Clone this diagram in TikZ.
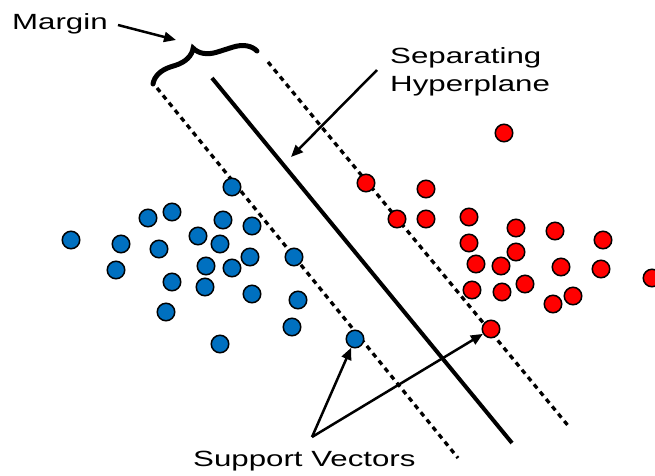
\documentclass[tikz,border=0pt]{standalone}
\usepackage{fontspec}
\setmainfont{Liberation Sans}[FakeStretch=1.42]
\usepackage{xcolor}
\usetikzlibrary{arrows.meta, decorations.pathreplacing}
\definecolor{svmblue}{RGB}{0,112,192}
\definecolor{svmred}{RGB}{255,0,0}

\begin{document}
\begin{tikzpicture}[
        x=1pt, y=-1pt,
        % --- Style Definitions ---
        bluept/.style={circle, draw=black, line width=1.5pt, fill=svmblue, minimum size=17.5pt, inner sep=0pt},
        redpt/.style={circle, draw=black, line width=1.5pt, fill=svmred, minimum size=17.5pt, inner sep=0pt},
        hyperline/.style={line width=4pt},
        marginline/.style={line width=3.3pt, dash pattern=on 5pt off 4.5pt},
        arrow/.style={line width=2.5pt, -{Triangle[length=12pt, width=10pt]}},
        brace/.style={decorate, decoration={brace, amplitude=22pt, aspect=0.45}, line width=5pt, line cap=round},
        label_text/.style={anchor=base west, inner sep=0pt, font=\fontsize{22}{28}\selectfont}
    ]
        \useasboundingbox (0,0) rectangle (655,475);

        % --- Hyperplane and Margins ---
        \coordinate (hp_top) at (212,78);
        \coordinate (hp_bot) at (512,443);
        \coordinate (ml_top) at (157,88);
        \coordinate (ml_bot) at (458,458);
        \coordinate (mr_top) at (268,62);
        \coordinate (mr_bot) at (570,428);

        \draw[hyperline] (hp_top) -- (hp_bot);
        \draw[marginline] (ml_top) -- (ml_bot);
        \draw[marginline] (mr_top) -- (mr_bot);

        % --- Brace for the margin ---
        \coordinate (brace_l) at (153,84);
        \coordinate (brace_r) at (257,51);
        \draw[brace] (brace_l) -- (brace_r);

        % --- Class A (blue) ---
        \foreach \px/\py [count=\i] in {232/187, 148/218, 172/212, 223/220, 252/226, 71/240,
            121/244, 198/236, 220/244, 159/249, 250/257, 294/257, 206/266, 232/268, 116/270,
            172/282, 205/287, 252/294, 298/300, 166/312, 292/327, 220/344}
            \node[bluept] (b\i) at (\px,\py) {};
        \node[bluept] (b_sv) at (355,339) {};

        % --- Class B (red) ---
        \foreach \px/\py [count=\i] in {504/133, 366/183, 426/189, 397/219, 426/219, 469/217,
            516/228, 555/231, 603/240, 469/243, 516/252, 476/264, 501/266, 561/267, 601/269,
            652/278, 472/290, 502/292, 525/284, 553/304, 573/296}
            \node[redpt] (r\i) at (\px,\py) {};
        \node[redpt] (r_sv) at (491,329) {};

        % --- Labels ---
        \node[label_text] (margin_lbl) at (12,29) {Margin};
        \node[label_text] (sep_lbl) at (390,63) {Separating};
        \node[label_text] (hyp_lbl) at (390,91) {Hyperplane};
        \node[label_text] (sv_lbl) at (193,466) {Support Vectors};

        % --- Pointer Arrows ---
        \coordinate (margin_tail) at (118,25);
        \coordinate (margin_tip) at (176,40);
        \draw[arrow] (margin_tail) -- (margin_tip);

        \coordinate (hyp_tail) at (377,70);
        \coordinate (hyp_tip) at (291,157);
        \draw[arrow] (hyp_tail) -- (hyp_tip);

        \coordinate (sv_tail) at (312,437);
        \draw[arrow] (sv_tail) -- (b_sv);
        \draw[arrow] (sv_tail) -- (r_sv);

    \end{tikzpicture}
\end{document}
